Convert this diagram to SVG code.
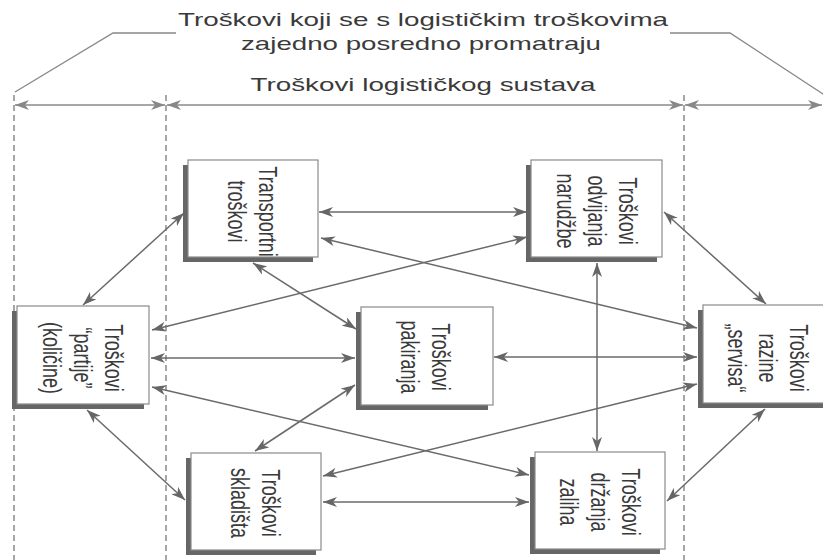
<svg xmlns="http://www.w3.org/2000/svg" width="823" height="560" viewBox="0 0 823 560">
<style>
  .t{font-family:"Liberation Sans",Arial,Helvetica,sans-serif;fill:#3a3a3a;}
  .hd{font-size:19px;text-anchor:middle;}
  .nt{font-size:18px;text-anchor:middle;}
  .box{fill:#fff;stroke:#8a8a8a;stroke-width:1.2;}
  .sh{fill:#666;}
  .conn line{stroke:#6a6a6a;stroke-width:1.5;fill:none;marker-start:url(#ah);marker-end:url(#ah);}
  .dash{stroke:#777;stroke-width:1.3;stroke-dasharray:6 4;fill:none;}
  .dim line{stroke:#8a8a8a;stroke-width:1.5;marker-start:url(#ah2);marker-end:url(#ah2);}
  .brk{stroke:#888;stroke-width:1.3;fill:none;}
</style>
<defs>
  <marker id="ah" viewBox="0 0 14 10" refX="14" refY="5" markerWidth="14" markerHeight="10" markerUnits="userSpaceOnUse" orient="auto-start-reverse">
    <path d="M0,0 L14,5 L0,10 L4,5 Z" fill="#666"/>
  </marker>
  <marker id="ah2" viewBox="0 0 14 10" refX="14" refY="5" markerWidth="14" markerHeight="10" markerUnits="userSpaceOnUse" orient="auto-start-reverse">
    <path d="M0,0 L14,5 L0,10 L4,5 Z" fill="#888"/>
  </marker>
</defs>
<rect x="0" y="0" width="823" height="560" fill="#fff"/>

<g id="header">
  <text class="t hd" x="423" y="26" textLength="490" lengthAdjust="spacingAndGlyphs">Troškovi koji se s logističkim troškovima</text>
  <text class="t hd" x="421" y="50" textLength="360" lengthAdjust="spacingAndGlyphs">zajedno posredno promatraju</text>
  <text class="t hd" x="423" y="91" textLength="345" lengthAdjust="spacingAndGlyphs">Troškovi logističkog sustava</text>
  <polyline class="brk" points="15,92 113,33 176,33"/>
  <polyline class="brk" points="670,33 730,33 826,96"/>
  <line class="dash" x1="14" y1="95" x2="14" y2="560"/>
  <line class="dash" x1="166" y1="95" x2="166" y2="560"/>
  <line class="dash" x1="684" y1="95" x2="684" y2="560"/>
  <g class="dim">
    <line x1="15" y1="105" x2="165" y2="105"/>
    <line x1="167" y1="105" x2="683" y2="105"/>
    <line x1="685" y1="105" x2="822" y2="105"/>
  </g>
</g>

<g id="connectors" class="conn">
  <line x1="319" y1="212" x2="527" y2="212"/>
  <line x1="321" y1="238" x2="697" y2="328"/>
  <line x1="184" y1="213" x2="83" y2="305"/>
  <line x1="253" y1="263" x2="356" y2="329"/>
  <line x1="527" y1="237" x2="152" y2="330"/>
  <line x1="664" y1="212" x2="766" y2="304"/>
  <line x1="597" y1="263" x2="597" y2="451"/>
  <line x1="151" y1="358" x2="355" y2="358"/>
  <line x1="152" y1="387" x2="529" y2="475"/>
  <line x1="87" y1="410" x2="185" y2="500"/>
  <line x1="494" y1="357" x2="697" y2="357"/>
  <line x1="355" y1="385" x2="255" y2="451"/>
  <line x1="697" y1="384" x2="323" y2="476"/>
  <line x1="323" y1="502" x2="529" y2="502"/>
  <line x1="765" y1="409" x2="667" y2="501"/>
</g>

<g id="transportni">
  <rect class="sh" x="183" y="165" width="130" height="97"/>
  <rect class="box" x="188" y="160" width="130" height="97"/>
  <g transform="translate(253,211.5) scale(1.45,1) rotate(90)">
    <text class="t nt" x="0" y="-4.45">Transportni</text>
    <text class="t nt" x="0" y="17.05">troškovi</text>
  </g>
</g>

<g id="odvijanja">
  <rect class="sh" x="526" y="165" width="131" height="97"/>
  <rect class="box" x="531" y="160" width="131" height="97"/>
  <g transform="translate(597,211) scale(1.45,1) rotate(90)">
    <text class="t nt" x="0" y="-15.2">Troškovi</text>
    <text class="t nt" x="0" y="6.3">odvijanja</text>
    <text class="t nt" x="0" y="27.8">narudžbe</text>
  </g>
</g>

<g id="partije">
  <rect class="sh" x="12" y="311" width="132" height="98"/>
  <rect class="box" x="17" y="306" width="132" height="98"/>
  <g transform="translate(83,358) scale(1.45,1) rotate(90)">
    <text class="t nt" x="0" y="-15.2">Troškovi</text>
    <text class="t nt" x="0" y="6.3">“partije”</text>
    <text class="t nt" x="0" y="27.8">(količine)</text>
  </g>
</g>

<g id="pakiranja">
  <rect class="sh" x="356" y="312" width="132" height="98"/>
  <rect class="box" x="361" y="307" width="132" height="98"/>
  <g transform="translate(426,357) scale(1.45,1) rotate(90)">
    <text class="t nt" x="0" y="-4.45">Troškovi</text>
    <text class="t nt" x="0" y="17.05">pakiranja</text>
  </g>
</g>

<g id="servisa">
  <rect class="sh" x="698" y="310" width="130" height="98"/>
  <rect class="box" x="703" y="305" width="130" height="98"/>
  <g transform="translate(768,358) scale(1.45,1) rotate(90)">
    <text class="t nt" x="0" y="-15.2">Troškovi</text>
    <text class="t nt" x="0" y="6.3">razine</text>
    <text class="t nt" x="0" y="27.8">„servisa“</text>
  </g>
</g>

<g id="skladista">
  <rect class="sh" x="186" y="458" width="130" height="97"/>
  <rect class="box" x="191" y="453" width="130" height="97"/>
  <g transform="translate(256,503) scale(1.45,1) rotate(90)">
    <text class="t nt" x="0" y="-4.45">Troškovi</text>
    <text class="t nt" x="0" y="17.05">skladišta</text>
  </g>
</g>

<g id="zaliha">
  <rect class="sh" x="530" y="457" width="130" height="97"/>
  <rect class="box" x="535" y="452" width="130" height="97"/>
  <g transform="translate(600,502) scale(1.45,1) rotate(90)">
    <text class="t nt" x="0" y="-15.2">Troškovi</text>
    <text class="t nt" x="0" y="6.3">držanja</text>
    <text class="t nt" x="0" y="27.8">zaliha</text>
  </g>
</g>
</svg>
